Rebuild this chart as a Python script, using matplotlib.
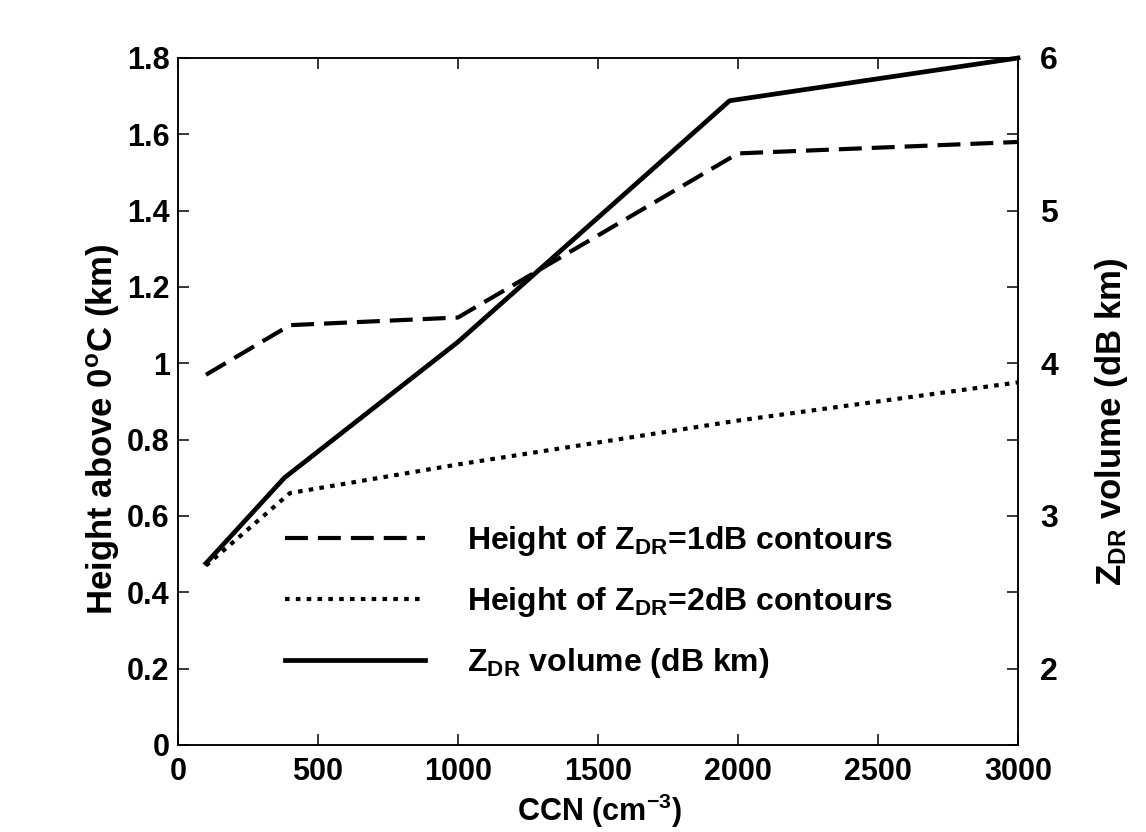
import matplotlib

matplotlib.use("Agg")
import matplotlib.pyplot as plt

# --- data ---
ccn = [100, 400, 1000, 2000, 3000]
height_1db = [0.97, 1.10, 1.12, 1.55, 1.58]
height_2db = [0.47, 0.66, 0.735, 0.85, 0.95]

ccn_vol = [100, 380, 1000, 1970, 3000]
zdr_volume = [2.69, 3.25, 4.14, 5.72, 6.0]

x_ticks = [0, 500, 1000, 1500, 2000, 2500, 3000]
left_ticks = [0, 0.2, 0.4, 0.6, 0.8, 1.0, 1.2, 1.4, 1.6, 1.8]
left_labels = ["0", "0.2", "0.4", "0.6", "0.8", "1", "1.2", "1.4", "1.6", "1.8"]
right_ticks = [1.5, 2, 2.5, 3, 3.5, 4, 4.5, 5, 5.5, 6]
right_labels = ["", "2", "", "3", "", "4", "", "5", "", "6"]

FONT = ["Liberation Sans", "DejaVu Sans"]

plt.rcParams.update({
    "font.family": FONT,
    "font.weight": "bold",
    "mathtext.fontset": "custom",
    "mathtext.rm": "Liberation Sans:bold",
    "mathtext.it": "Liberation Sans:bold",
    "mathtext.bf": "Liberation Sans:bold",
    "mathtext.default": "rm",
    "axes.linewidth": 1.1,
})

fig = plt.figure(figsize=(11.46, 8.32), dpi=100)
ax = fig.add_axes([0.1553, 0.1046, 0.7330, 0.8257])
ax2 = ax.twinx()

dash = (0, (5.5, 2.4))
dot = (0, (1.1, 1.5))

l1, = ax.plot(ccn, height_1db, color="black", lw=3.0, ls=dash,
              label="Height of Z$_{DR}$=1dB contours")
l2, = ax.plot(ccn, height_2db, color="black", lw=3.0, ls=dot,
              label="Height of Z$_{DR}$=2dB contours")
l3, = ax2.plot(ccn_vol, zdr_volume, color="black", lw=3.4, ls="-",
               label="Z$_{DR}$ volume (dB km)", clip_on=False)

ax.set_xlim(0, 3000)
ax.set_ylim(0, 1.8)
ax2.set_ylim(1.5, 6.0)

ax.set_xticks(x_ticks)
ax.set_yticks(left_ticks)
ax.set_yticklabels(left_labels)
ax2.set_yticks(right_ticks)
ax2.set_yticklabels(right_labels)

ax.tick_params(axis="both", direction="in", length=8, width=1.1,
               labelsize=22, top=True, right=False)
ax.tick_params(axis="y", pad=6)
ax.tick_params(axis="x", pad=9)
ax2.tick_params(axis="y", direction="in", length=8, width=1.1,
                labelsize=23, pad=16)
for t in ax.get_xticklabels() + ax.get_yticklabels() + ax2.get_yticklabels():
    t.set_fontweight("bold")

ax.set_xlabel("CCN (cm$^{-3}$)", fontsize=22, fontweight="bold")
ax.xaxis.set_label_coords(0.502, -0.068)
ax.set_ylabel("Height above 0$^{o}$C (km)", fontsize=25, fontweight="bold")
ax.yaxis.set_label_coords(-0.067, 0.46)
ax2.set_ylabel("Z$_{DR}$ volume (dB km)", fontsize=25, fontweight="bold")
ax2.yaxis.set_label_coords(1.089, 0.47)

leg = ax.legend(handles=[l1, l2, l3], loc="upper left",
                bbox_to_anchor=(0.127, 0.322), frameon=False,
                borderaxespad=0, borderpad=0, handlelength=4.4,
                handletextpad=1.3, labelspacing=0.85,
                prop={"family": FONT, "weight": "bold", "size": 23})

fig.savefig("out.png", dpi=100)
